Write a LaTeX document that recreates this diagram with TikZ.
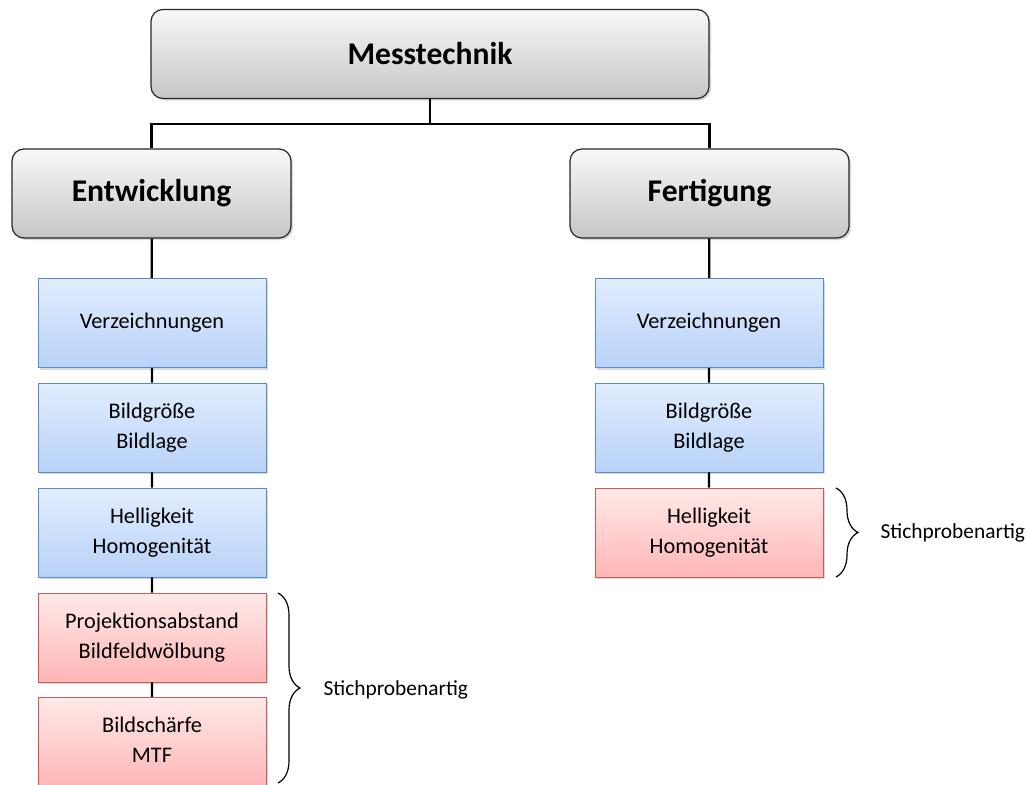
\documentclass[tikz,border=0pt]{standalone}
\usepackage{fontspec}
\setmainfont{Carlito}
\usetikzlibrary{decorations.pathreplacing}
\usetikzlibrary{shadows}
\definecolor{graytop}{RGB}{248,248,248}
\definecolor{graybot}{RGB}{198,198,198}
\definecolor{bluetop}{RGB}{226,237,254}
\definecolor{bluebot}{RGB}{184,210,248}
\definecolor{blueline}{RGB}{88,140,205}
\definecolor{redtop}{RGB}{255,233,233}
\definecolor{redbot}{RGB}{255,182,182}
\definecolor{redline}{RGB}{205,88,88}
\tikzset{shad/.style = {drop shadow={opacity=0.3, shadow xshift=2pt, shadow yshift=-2pt}}}
\tikzset{head/.style = {draw=black!85, line width=1.2, rounded corners=12, top color=graytop, bottom color=graybot, minimum width=279, minimum height=89, font=\bfseries\fontsize{31.6}{37}\selectfont, shad}}
\tikzset{item/.style = {draw=blueline, line width=0.8, top color=bluetop, bottom color=bluebot, minimum width=228, minimum height=89, align=center, text depth=4, font=\fontsize{22.3}{30}\selectfont, shad}}
\tikzset{rand/.style = {item, draw=redline, top color=redtop, bottom color=redbot}}
\tikzset{conn/.style = {line width=2.2, black}}
\tikzset{klammer/.style = {decorate, decoration={brace, amplitude=22}, line width=1.2}}

\begin{document}
\begin{tikzpicture}[x=1pt, y=-1pt]
        \clip (0,0) rectangle (1027,784);
        \node [head, minimum width=558] (mess) at (430,54) {Messtechnik};
        \node [head] (ent) at (151.5,193.5) {Entwicklung};
        \node [head] (fert) at (709.5,193.5) {Fertigung};
        % linke Spalte
        \node [item] (lverz) at (152,323) {Verzeichnungen};
        \node [item] (lgroe) at (152,427.5) {Bildgröße\\Bildlage};
        \node [item] (lhell) at (152,532.5) {Helligkeit\\Homogenität};
        \node [rand] (lproj) at (152,637.5) {Projektionsabstand\\Bildfeldwölbung};
        \node [rand] (lmtf) at (152,742) {Bildschärfe\\MTF};
        % rechte Spalte
        \node [item] (rverz) at (709,323) {Verzeichnungen};
        \node [item] (rgroe) at (709,427.5) {Bildgröße\\Bildlage};
        \node [rand] (rhell) at (709,532.5) {Helligkeit\\Homogenität};
        \begin{scope}[on background layer/.try]
        \draw [conn] (mess.south) -- ++(0,25) -| (ent.north);
        \draw [conn] (mess.south) -- ++(0,25) -| (fert.north);
        \draw [conn] (ent) -- (lverz) (lverz) -- (lgroe) (lgroe) -- (lhell) (lhell) -- (lproj) (lproj) -- (lmtf);
        \draw [conn] (fert) -- (rverz) (rverz) -- (rgroe) (rgroe) -- (rhell);
        \end{scope}
        \draw [klammer] (278,593) -- (278,783);
        \draw [klammer] (836,488) -- (836,577);
        \node [anchor=west, font=\fontsize{21.4}{26}\selectfont] (lstich) at (320,690) {Stichprobenartig};
        \node [anchor=west, font=\fontsize{21.4}{26}\selectfont] (rstich) at (877,533) {Stichprobenartig};
    \end{tikzpicture}
\end{document}
